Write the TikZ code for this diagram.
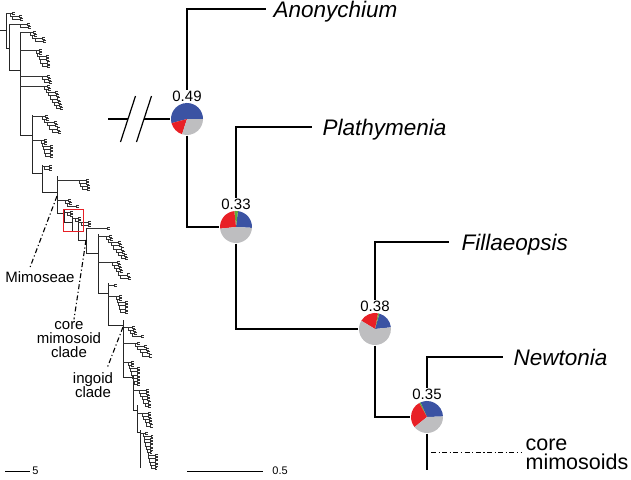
\documentclass[tikz,border=0pt]{standalone}
\usepackage{fontspec}
\setmainfont{Liberation Sans}
\usetikzlibrary{calc}
\definecolor{blue1}{RGB}{59, 83, 163}
\definecolor{red1}{RGB}{232, 32, 38}
\definecolor{grey1}{RGB}{190, 190, 192}
\definecolor{green1}{RGB}{96, 172, 62}

% one slice of a pie: colour, node, start angle, end angle
\newcommand{\piepart}[4]{\fill[#1] (#2.center) -- ++(#3:16) arc[start angle=#3, end angle=#4, radius=16] -- cycle;}

% little staircase clade of the thumbnail tree: x, y, stem, tips, step
\newcommand{\clade}[5]{%
  \draw[twig] (#1,-#2) -- ++(#3,0);
  \foreach \k in {1,...,#4}{
    \pgfmathsetmacro{\tipx}{#1+#3+(\k-1)*#5}
    \pgfmathsetmacro{\tipy}{-#2-(\k-1)*3.2}
    \pgfmathsetmacro{\tiplen}{2+mod(\k*5+#2,6)}
    \draw[twig] (\tipx,\tipy) -- ++(\tiplen,0) ++(2.5,1.1) -- ++(-2.5,0) -- ++(0,-2.2) -- ++(2.5,0);
    \ifnum\k<#4 \draw[twig] (\tipx,\tipy) -- ++(0,-3.2) -- ++(#5,0); \fi
  }}

\begin{document}
\begin{tikzpicture}[x=1pt, y=1pt, line width=1.2pt,
  pie/.style={circle, minimum size=32pt, inner sep=0pt},
  plab/.style={anchor=base, fill=white, inner sep=0.5pt, font=\fontsize{15}{18}\selectfont},
  taxon/.style={anchor=base west, inner sep=0pt, font=\fontsize{22.5}{27}\selectfont\itshape},
  lab/.style={align=center, inner sep=0pt, font=\fontsize{15}{14}\selectfont},
  stem/.style={line width=0.8pt, black!85},
  twig/.style={line width=0.6pt, black!80},
  leader/.style={line width=1.1pt, dash pattern=on 5pt off 2.5pt on 1.2pt off 2.5pt}]
\useasboundingbox (0,0) rectangle (631,-479);

% thumbnail of the whole tree
\draw[stem] (0,-30) -- (6,-30);
\foreach \bx/\byt/\byb/\bxn in {6/13/48/9, 9/24/70/20, 20/32/135/32, 32/115/173/42,
    42/165/192/57, 57/176/213/64, 64/210/222/72, 72/216/231/78, 78/220/240/86,
    86/228/253/98, 98/234/293/108, 108/283/325/123, 123/320/377/133,
    133/375/410/137, 137/405/432/140, 140/430/468/140}
  \draw[stem] (\bx,-\byt) -- (\bx,-\byb) -- (\bxn,-\byb);
\foreach \cx/\cy/\cs/\cn/\cd in {6/13/4/3/2, 9/24/11/2/2, 20/32/10/4/2.5, 20/50/16/6/1.5,
    20/76/22/3/2, 20/86/24/8/2, 32/116/10/6/2.5, 32/140/9/6/1, 42/166/2/2/1,
    57/180/22/4/1.5, 57/200/8/3/2, 64/212/3/2/1.5, 72/218/3/2/1.5, 78/222/3/2/1.5,
    86/228/14/1/1, 98/236/8/8/2.5, 98/262/14/6/2, 108/285/2/1/1, 108/296/8/6/1,
    123/327/5/4/2, 123/343/12/5/2.5, 123/362/5/8/1, 133/390/6/6/1.5,
    137/413/5/5/1.5, 140/433/3/12/0.8}
  \clade{\cx}{\cy}{\cs}{\cn}{\cd};
\draw[red1, line width=0.6pt] (63,-209) rectangle (83,-231);

\node[lab] (mimo) at (40,-277.5) {Mimoseae};
\node[lab] (coremim) at (69,-340) {core\\mimosoid\\clade};
\node[lab] (ingo) at (93,-385.5) {ingoid\\clade};
\coordinate (l1) at (57,-196);
\coordinate (l3) at (86,-240);
\coordinate (l5) at (123,-327);
\draw[leader] (l1) -- ([xshift=-10pt, yshift=4pt]mimo.north);
\draw[leader] (l3) -- ([xshift=5pt, yshift=2pt]coremim.north);
\draw[leader] (l5) -- ([xshift=14pt, yshift=4pt]ingo.north);

% the zoomed part
\node[pie] (p1) at (187,-119) {};
\node[pie] (p2) at (236,-227) {};
\node[pie] (p3) at (375,-329) {};
\node[pie] (p4) at (427,-417) {};
\coordinate (e1) at (266,-9);
\coordinate (e2) at (312,-127);
\coordinate (e3) at (449,-242);
\coordinate (e4) at (503,-357);
\coordinate (e5) at (427,-470);

\node[taxon] (anony) at ([shift={(7,-8)}]e1) {Anonychium};
\node[taxon] (plathy) at ([shift={(10,-8)}]e2) {Plathymenia};
\node[taxon] (filla) at ([shift={(12,-8)}]e3) {Fillaeopsis};
\node[taxon] (newto) at ([shift={(10,-8)}]e4) {Newtonia};

\foreach \from/\to in {p1/e1, p1/p2, p2/e2, p2/p3, p3/e3, p3/p4, p4/e4}
  \draw (\from) |- (\to);
\draw (p4) -- (e5);

% cut stem
\coordinate (s1) at (108,-119);
\coordinate (b1) at (128,-119);
\coordinate (b2) at (144,-119);
\draw (s1) -- (b1);
\draw (b2) -- (p1);
\draw (b1) ++(-7.5,-23) -- ++(15,46);
\draw (b2) ++(-7.5,-23) -- ++(15,46);

\foreach \p/\v in {p1/0.49, p2/0.33, p3/0.38, p4/0.35}
  \node[plab] (v\p) at ([yshift=1]\p.north) {\v};

\piepart{blue1}{p1}{0}{195} \piepart{red1}{p1}{195}{252} \piepart{grey1}{p1}{252}{360}
\piepart{blue1}{p2}{-3}{83} \piepart{green1}{p2}{83}{96} \piepart{red1}{p2}{96}{186} \piepart{grey1}{p2}{186}{357}
\piepart{blue1}{p3}{6}{74} \piepart{green1}{p3}{74}{79} \piepart{red1}{p3}{79}{149} \piepart{grey1}{p3}{149}{366}
\piepart{blue1}{p4}{2}{114} \piepart{green1}{p4}{114}{119} \piepart{red1}{p4}{119}{219} \piepart{grey1}{p4}{219}{362}

\node[anchor=north west, align=left, inner sep=0pt, font=\fontsize{21.5}{19}\selectfont] (coremims) at (525,-438) {core\\mimosoids};
\coordinate (c5) at (431,-452);
\draw[leader, line width=0.8pt] (c5) -- ($(coremims.west |- c5)+(-3,0)$);

% scale bars
\coordinate (sa1) at (5,-471);
\coordinate (sa2) at (30,-471);
\draw[line width=0.9pt] (sa1) -- (sa2) node[right, inner sep=2pt, font=\fontsize{11}{13}\selectfont] (sa) {5};
\coordinate (sb1) at (187,-471);
\coordinate (sb2) at (263,-471);
\draw[line width=0.9pt] (sb1) -- (sb2) node[right, inner sep=9pt, font=\fontsize{11}{13}\selectfont] (sb) {0.5};
\end{tikzpicture}
\end{document}
